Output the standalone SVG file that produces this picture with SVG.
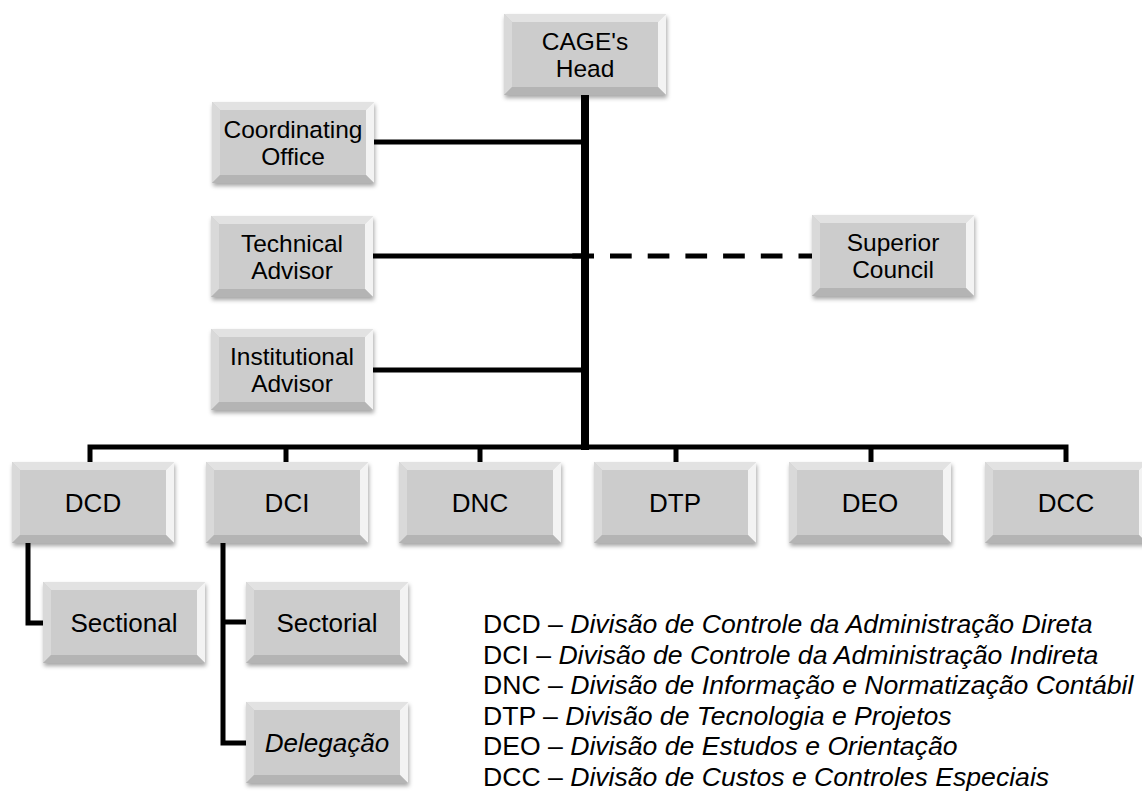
<svg xmlns="http://www.w3.org/2000/svg" xmlns:xlink="http://www.w3.org/1999/xlink" width="1142" height="791" viewBox="0 0 1142 791">
<style>
  .t { font-family: "Liberation Sans", Arial, sans-serif; font-size: 26px; fill: #000; text-anchor: middle; }
  .t2 { font-family: "Liberation Sans", Arial, sans-serif; font-size: 24.5px; fill: #000; text-anchor: middle; }
  .lg { font-family: "Liberation Sans", Arial, sans-serif; font-size: 26.6px; fill: #000; }
  .i { font-style: italic; }
  .c { fill: none; stroke: #000; stroke-width: 5; stroke-linejoin: miter; }
  .trunk { fill: none; stroke: #000; stroke-width: 8; }
  .dash { fill: none; stroke: #000; stroke-width: 5; stroke-dasharray: 21.7 16; }
</style>
<defs>
  <filter id="sh" x="-10%" y="-10%" width="125%" height="130%">
    <feDropShadow dx="1" dy="3" stdDeviation="2" flood-color="#000" flood-opacity="0.35"/>
  </filter>
  <g id="box">
    <rect x="0" y="0" width="162" height="81" fill="#cccccc" filter="url(#sh)"/>
    <polygon points="0,0 162,0 154,8 8,8" fill="#e2e2e2"/>
    <polygon points="0,0 8,8 8,73 0,81" fill="#d9d9d9"/>
    <polygon points="162,0 162,81 154,73 154,8" fill="#f3f3f3"/>
    <polygon points="0,81 8,73 154,73 162,81" fill="#b4b4b4"/>
  </g>
</defs>
<rect width="1142" height="791" fill="#fff"/>

<g id="connectors">
  <path class="dash" d="M572.3,256 H812"/>
  <path class="c" d="M373,142 H585"/>
  <path class="c" d="M373,256 H585"/>
  <path class="c" d="M373,370 H585"/>
  <path class="c" d="M90,463 V447 H1066 V463"/>
  <path class="c" d="M286,447 V463"/>
  <path class="c" d="M480,447 V463"/>
  <path class="c" d="M676,447 V463"/>
  <path class="c" d="M871,447 V463"/>
  <path class="trunk" d="M585,94 V450"/>
  <path class="c" d="M28,542 V623 H44"/>
  <path class="c" d="M223,542 V743 H247"/>
  <path class="c" d="M223,622 H247"/>
</g>

<g id="n-cage" transform="translate(504,14)"><use xlink:href="#box"/><text class="t2" x="81" y="35.5">CAGE's</text><text class="t2" x="81" y="63">Head</text></g>
<g id="n-coord" transform="translate(212,102)"><use xlink:href="#box"/><text class="t2" x="81" y="35.5">Coordinating</text><text class="t2" x="81" y="63">Office</text></g>
<g id="n-tech" transform="translate(211,216)"><use xlink:href="#box"/><text class="t2" x="81" y="35.5">Technical</text><text class="t2" x="81" y="63">Advisor</text></g>
<g id="n-inst" transform="translate(211,329)"><use xlink:href="#box"/><text class="t2" x="81" y="35.5">Institutional</text><text class="t2" x="81" y="63">Advisor</text></g>
<g id="n-sup" transform="translate(812,215)"><use xlink:href="#box"/><text class="t2" x="81" y="35.5">Superior</text><text class="t2" x="81" y="63">Council</text></g>

<g id="n-dcd" transform="translate(12,462)"><use xlink:href="#box"/><text class="t" x="81" y="50">DCD</text></g>
<g id="n-dci" transform="translate(206,462)"><use xlink:href="#box"/><text class="t" x="81" y="50">DCI</text></g>
<g id="n-dnc" transform="translate(399,462)"><use xlink:href="#box"/><text class="t" x="81" y="50">DNC</text></g>
<g id="n-dtp" transform="translate(594,462)"><use xlink:href="#box"/><text class="t" x="81" y="50">DTP</text></g>
<g id="n-deo" transform="translate(789,462)"><use xlink:href="#box"/><text class="t" x="81" y="50">DEO</text></g>
<g id="n-dcc" transform="translate(985,462)"><use xlink:href="#box"/><text class="t" x="81" y="50">DCC</text></g>

<g id="n-sectional" transform="translate(43,582)"><use xlink:href="#box"/><text class="t" x="81" y="50">Sectional</text></g>
<g id="n-sectorial" transform="translate(246,582)"><use xlink:href="#box"/><text class="t" x="81" y="50">Sectorial</text></g>
<g id="n-deleg" transform="translate(246,702)"><use xlink:href="#box"/><text class="t i" x="81" y="50">Delegação</text></g>

<g id="legend">
  <text class="lg" x="483" y="633">DCD – <tspan class="i">Divisão de Controle da Administração Direta</tspan></text>
  <text class="lg" x="483" y="663.6">DCI – <tspan class="i">Divisão de Controle da Administração Indireta</tspan></text>
  <text class="lg" x="483" y="694.2">DNC – <tspan class="i">Divisão de Informação e Normatização Contábil</tspan></text>
  <text class="lg" x="483" y="724.8">DTP – <tspan class="i">Divisão de Tecnologia e Projetos</tspan></text>
  <text class="lg" x="483" y="755.4">DEO – <tspan class="i">Divisão de Estudos e Orientação</tspan></text>
  <text class="lg" x="483" y="786">DCC – <tspan class="i">Divisão de Custos e Controles Especiais</tspan></text>
</g>
</svg>
